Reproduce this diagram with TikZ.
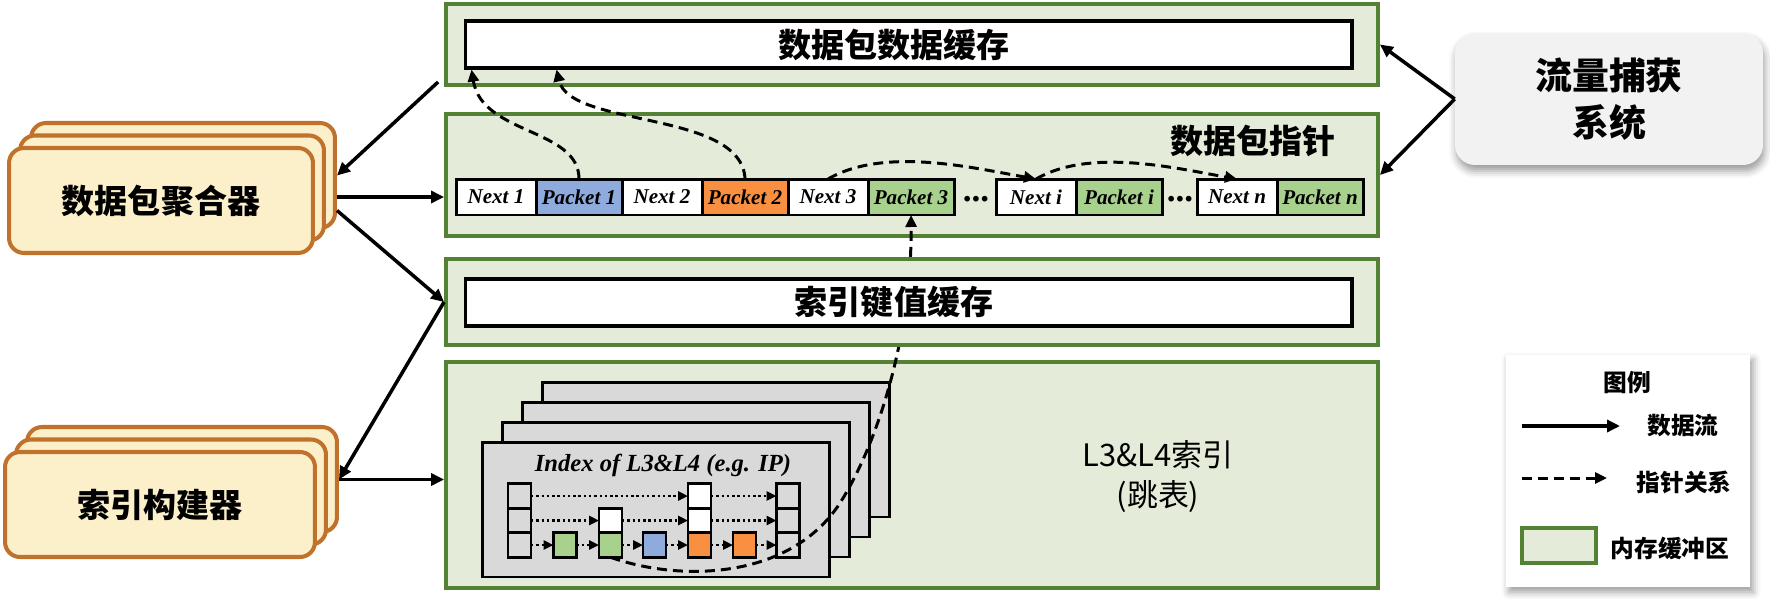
\documentclass[tikz,border=0pt]{standalone}
\usepackage{fontspec}
\setmainfont{Liberation Serif}
\newfontfamily\cjk{Noto Sans CJK SC}
\usetikzlibrary{arrows.meta,calc,shadows.blur}

\definecolor{gborder}{HTML}{548235}
\definecolor{gfill}{HTML}{E4ECD9}
\definecolor{oborder}{HTML}{C0712B}
\definecolor{ofill}{HTML}{FBF0CA}
\definecolor{pblue}{HTML}{8FAADC}
\definecolor{porange}{HTML}{F98F40}
\definecolor{pgreen}{HTML}{A9D18E}
\definecolor{cardgray}{HTML}{D9D9D9}
\definecolor{capgray}{HTML}{F2F2F2}

\begin{document}
\begin{tikzpicture}[x=0.02cm,y=-0.02cm,
    gbuf/.style={draw=gborder,fill=gfill,line width=2.3pt,minimum width=18.64cm},
    wbox/.style={draw,fill=white,line width=1.8pt,minimum width=17.74cm,minimum height=0.94cm},
    stackbox/.style={draw=oborder,fill=ofill,line width=2.3pt,rounded corners=0.3cm,minimum height=2.1cm},
    ttl/.style={font=\cjk\bfseries\fontsize{18.8}{22}\selectfont},
    cell/.style={draw,line width=1.7pt,minimum height=0.72cm,outer sep=0pt,inner sep=0pt,
      font=\bfseries\itshape\fontsize{12}{14}\selectfont},
    nx/.style={cell,fill=white,minimum width=1.6cm},
    pk/.style={cell,minimum width=1.72cm},
    gap/.style={font=\bfseries\fontsize{20}{20}\selectfont,inner sep=0pt},
    card/.style={draw,fill=cardgray,line width=1.7pt,minimum width=6.96cm,minimum height=2.7cm},
    sl/.style={draw,line width=1.5pt,minimum width=0.46cm,minimum height=0.49cm,outer sep=0pt},
    flow/.style={-{Triangle[length=0.26cm,width=0.24cm]},line width=2pt},
    ptr/.style={-{Triangle[length=0.24cm,width=0.22cm]},line width=1.7pt,dash pattern=on 0.2cm off 0.12cm},
    sklink/.style={-{Triangle[length=0.2cm,width=0.18cm]},line width=1.5pt,dash pattern=on 1.4pt off 1.6pt},
    lgd/.style={font=\cjk\bfseries\fontsize{13.5}{16}\selectfont}]

    \useasboundingbox (0,0) rectangle (1770,602);

    % capture system and legend
    \node[fill=capgray,rounded corners=0.4cm,minimum width=6.16cm,minimum height=2.64cm,
      blur shadow={shadow xshift=0.03cm,shadow yshift=-0.12cm,shadow blur radius=0.15cm,shadow opacity=40},
      align=center,font=\cjk\bfseries\fontsize{21}{26.7}\selectfont] (cap) at (1609,99) {流量捕获\\系统};
    \node[fill=white,minimum width=4.88cm,minimum height=4.64cm,
      blur shadow={shadow xshift=0.06cm,shadow yshift=-0.1cm,shadow blur radius=0.15cm,shadow opacity=40}] (lgdbox) at (1628,471) {};
    \node[lgd] at (1627,383) {图例};
    \coordinate (f1) at (1522,426);
    \coordinate (f2) at (1620,426);
    \draw[flow] (f1) -- (f2);
    \node[lgd] at (1683,426) {数据流};
    \coordinate (p1) at (1522,478);
    \coordinate (p2) at (1607,478);
    \draw[ptr] (p1) -- (p2);
    \node[lgd] at (1684,482) {指针关系};
    \node[gbuf,minimum width=1.48cm,minimum height=0.7cm] (lgdbuf) at (1559,545.5) {};
    \node[lgd] at (1670,548) {内存缓冲区};

    % aggregator and builder, three layers each
    \foreach \i in {2,1,0} {
      \node[stackbox,minimum width=6.08cm] (aggr\i) at (161+11*\i,200.5-12.5*\i) {};
      \node[stackbox,minimum width=6.2cm] (bldr\i) at (160+11*\i,504.5-12.5*\i) {};
    }
    \node[ttl] at (aggr0) {数据包聚合器};
    \node[ttl] at (bldr0) {索引构建器};

    % packet data buffer
    \node[gbuf,minimum height=1.62cm] (bufA) at (912,44.5) {};
    \node[wbox] (datA) at (908.5,44.5) {};
    \node[ttl] at (894,44.5) {数据包数据缓存};

    % packet pointers
    \node[gbuf,minimum height=2.44cm] (bufB) at (912,175) {};
    \node[ttl] at (1253,141) {数据包指针};
    \node[nx] (nx1) at (496,197) {Next 1};
    \node[pk,fill=pblue] (pk1) at (579,197) {Packet 1};
    \node[nx] (nx2) at (662,197) {Next 2};
    \node[pk,fill=porange] (pk2) at (745,197) {Packet 2};
    \node[nx] (nx3) at (828,197) {Next 3};
    \node[pk,fill=pgreen] (pk3) at (911,197) {Packet 3};
    \node[gap] at (976,199) {...};
    \node[nx] (nxi) at (1036,197) {Next \textit{i}};
    \node[pk,fill=pgreen] (pki) at (1119,197) {Packet \textit{i}};
    \node[gap] at (1180,199) {...};
    \node[nx] (nxn) at (1237,197) {Next \textit{n}};
    \node[pk,fill=pgreen] (pkn) at (1320,197) {Packet \textit{n}};

    % skip list index
    \node[gbuf,minimum height=4.52cm] (bufD) at (912,475) {};
    \foreach \i in {3,2,1,0}
      \node[card] (card\i) at (656+20*\i,509.5-20*\i) {};
    \node[font=\bfseries\itshape\fontsize{14}{16}\selectfont] at (663,465) {Index of L3\&L4 (e.g. IP)};
    \node[font=\cjk\fontsize{17.6}{23.3}\selectfont,align=center] at (1158,476.5) {L3\&L4索引\\(跳表)};
    \foreach \l/\y in {1/545,2/520.5,3/496} {
      \node[sl] (h\l) at (519.5,\y) {};
      \node[sl] (t\l) at (788,\y) {};
    }
    \node[sl,fill=pgreen] (a1) at (565,545) {};
    \node[sl,fill=pgreen] (b1) at (610.5,545) {};
    \node[sl,fill=white] (b2) at (610.5,520.5) {};
    \node[sl,fill=pblue] (c1) at (654.5,545) {};
    \node[sl,fill=porange] (d1) at (699.5,545) {};
    \node[sl,fill=white] (d2) at (699.5,520.5) {};
    \node[sl,fill=white] (d3) at (699.5,496) {};
    \node[sl,fill=porange] (e1) at (744.5,545) {};
    \foreach \s/\e in {h1/a1,a1/b1,b1/c1,c1/d1,d1/e1,e1/t1,h2/b2,b2/d2,d2/t2,h3/d3,d3/t3}
      \draw[sklink] (\s) -- (\e);

    % index entry points to its packet
    \draw[ptr] (b1.south) .. controls (680,582) and (790,580) .. (840,503)
      .. controls (880,440) and (912,330) .. (pk3.south);

    % index key-value buffer
    \node[gbuf,minimum height=1.72cm] (bufC) at (912,302) {};
    \node[wbox] (keyC) at (908.5,302.5) {};
    \node[ttl] at (894,302.5) {索引键值缓存};

    % data flow
    \draw[flow] ($(bufA.south west)+(-6,-5)$) -- (aggr2.east);
    \draw[flow] (aggr2.east |- nx1.west) -- (bufB.west |- nx1.west);
    \draw[flow] ($(aggr2.east)+(0,35)$) -- (bufC.west);
    \draw[flow] (bufC.west) -- (bldr2.east);
    \draw[flow] (bldr2.east) -- (bufD.west |- bldr2.east);
    \draw[flow] (cap.west) -- (bufA.east);
    \draw[flow] (cap.west) -- (bufB.east);

    % pointers
    \draw[ptr] (pk1.north) .. controls (579,128) and (482,135) .. ($(datA.south west)+(8,0)$);
    \draw[ptr] (pk2.north) .. controls (742,110) and (570,128) .. ($(datA.south west)+(93,0)$);
    \draw[ptr] (nx3.north) to[out=30,in=170,looseness=0.8] (nxi.north);
    \draw[ptr] (nxi.north) to[out=30,in=170,looseness=0.8] (nxn.north);
\end{tikzpicture}
\end{document}
